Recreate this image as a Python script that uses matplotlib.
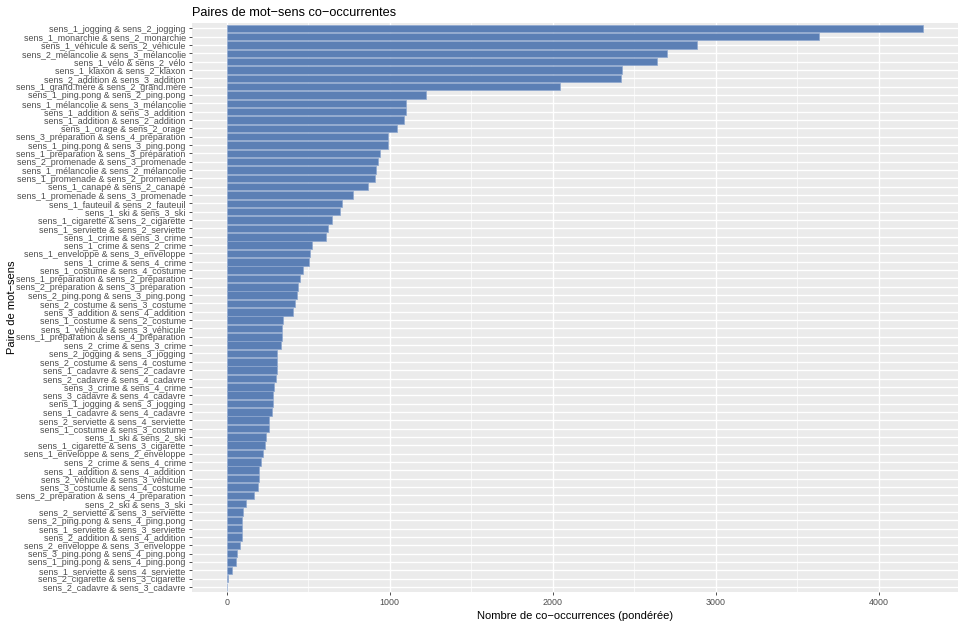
import matplotlib
matplotlib.use("Agg")
import matplotlib.pyplot as plt
from matplotlib.ticker import MultipleLocator

plt.rcParams["font.family"] = ["Liberation Sans", "DejaVu Sans"]

# word-sense pairs, top to bottom as in the chart
pairs = [
    "sens_1_jogging & sens_2_jogging",
    "sens_1_monarchie & sens_2_monarchie",
    "sens_1_véhicule & sens_2_véhicule",
    "sens_2_mélancolie & sens_3_mélancolie",
    "sens_1_vélo & sens_2_vélo",
    "sens_1_klaxon & sens_2_klaxon",
    "sens_2_addition & sens_3_addition",
    "sens_1_grand.mère & sens_2_grand.mère",
    "sens_1_ping.pong & sens_2_ping.pong",
    "sens_1_mélancolie & sens_3_mélancolie",
    "sens_1_addition & sens_3_addition",
    "sens_1_addition & sens_2_addition",
    "sens_1_orage & sens_2_orage",
    "sens_3_préparation & sens_4_préparation",
    "sens_1_ping.pong & sens_3_ping.pong",
    "sens_1_préparation & sens_3_préparation",
    "sens_2_promenade & sens_3_promenade",
    "sens_1_mélancolie & sens_2_mélancolie",
    "sens_1_promenade & sens_2_promenade",
    "sens_1_canapé & sens_2_canapé",
    "sens_1_promenade & sens_3_promenade",
    "sens_1_fauteuil & sens_2_fauteuil",
    "sens_1_ski & sens_3_ski",
    "sens_1_cigarette & sens_2_cigarette",
    "sens_1_serviette & sens_2_serviette",
    "sens_1_crime & sens_3_crime",
    "sens_1_crime & sens_2_crime",
    "sens_1_enveloppe & sens_3_enveloppe",
    "sens_1_crime & sens_4_crime",
    "sens_1_costume & sens_4_costume",
    "sens_1_préparation & sens_2_préparation",
    "sens_2_préparation & sens_3_préparation",
    "sens_2_ping.pong & sens_3_ping.pong",
    "sens_2_costume & sens_3_costume",
    "sens_3_addition & sens_4_addition",
    "sens_1_costume & sens_2_costume",
    "sens_1_véhicule & sens_3_véhicule",
    "sens_1_préparation & sens_4_préparation",
    "sens_2_crime & sens_3_crime",
    "sens_2_jogging & sens_3_jogging",
    "sens_2_costume & sens_4_costume",
    "sens_1_cadavre & sens_2_cadavre",
    "sens_2_cadavre & sens_4_cadavre",
    "sens_3_crime & sens_4_crime",
    "sens_3_cadavre & sens_4_cadavre",
    "sens_1_jogging & sens_3_jogging",
    "sens_1_cadavre & sens_4_cadavre",
    "sens_2_serviette & sens_4_serviette",
    "sens_1_costume & sens_3_costume",
    "sens_1_ski & sens_2_ski",
    "sens_1_cigarette & sens_3_cigarette",
    "sens_1_enveloppe & sens_2_enveloppe",
    "sens_2_crime & sens_4_crime",
    "sens_1_addition & sens_4_addition",
    "sens_2_véhicule & sens_3_véhicule",
    "sens_3_costume & sens_4_costume",
    "sens_2_préparation & sens_4_préparation",
    "sens_2_ski & sens_3_ski",
    "sens_2_serviette & sens_3_serviette",
    "sens_2_ping.pong & sens_4_ping.pong",
    "sens_1_serviette & sens_3_serviette",
    "sens_2_addition & sens_4_addition",
    "sens_2_enveloppe & sens_3_enveloppe",
    "sens_3_ping.pong & sens_4_ping.pong",
    "sens_1_ping.pong & sens_4_ping.pong",
    "sens_1_serviette & sens_4_serviette",
    "sens_2_cigarette & sens_3_cigarette",
    "sens_2_cadavre & sens_3_cadavre",
]

# weighted co-occurrence counts
counts = [
    4273, 3636, 2885, 2699, 2640, 2423, 2421, 2045, 1224, 1099,
    1097, 1085, 1044, 991, 987, 940, 926, 918, 909, 869,
    777, 707, 693, 646, 621, 607, 521, 511, 503, 466,
    448, 436, 432, 417, 409, 344, 338, 336, 332, 309,
    309, 305, 303, 287, 283, 281, 275, 258, 258, 239,
    237, 219, 209, 199, 195, 190, 164, 119, 98, 96,
    90, 92, 80, 62, 54, 33, 5, 0,
]

x_ticks = [0, 1000, 2000, 3000, 4000]

fig = plt.figure(figsize=(9.63, 6.24), dpi=100)
ax = fig.add_axes([0.1994, 0.0513, 0.7954, 0.9114])
ax.set_facecolor("#EBEBEB")

n = len(pairs)
ypos = list(range(n, 0, -1))  # first pair on top
ax.barh(ypos, counts, height=0.9, color="#5B7FB5", edgecolor="#8FA8CF",
        linewidth=0.5, zorder=3)

xmax = max(counts)
ax.set_xlim(-0.05 * xmax, 1.05 * xmax)
ax.set_ylim(0.4, n + 0.6)

ax.set_xticks(x_ticks)
ax.xaxis.set_minor_locator(MultipleLocator(500))
ax.set_yticks(ypos)
ax.set_yticklabels(pairs)

ax.grid(which="major", color="white", linewidth=1.0, zorder=0)
ax.grid(which="minor", axis="x", color="white", linewidth=0.5, zorder=0)
ax.set_axisbelow(True)
for s in ax.spines.values():
    s.set_visible(False)

ax.tick_params(axis="both", which="major", length=2.5, width=0.6,
               color="#333333", labelcolor="#4D4D4D", labelsize=6.4, pad=2)
ax.tick_params(axis="both", which="minor", length=0)

ax.set_xlabel("Nombre de co\u2212occurrences (pondérée)", fontsize=8, labelpad=3)
ax.set_ylabel("Paire de mot\u2212sens", fontsize=8)
ax.yaxis.set_label_coords(-0.229, 0.5)
ax.set_title("Paires de mot\u2212sens co\u2212occurrentes", loc="left", fontsize=9.2, pad=5)

fig.savefig("out.png", dpi=100)
plt.close(fig)
